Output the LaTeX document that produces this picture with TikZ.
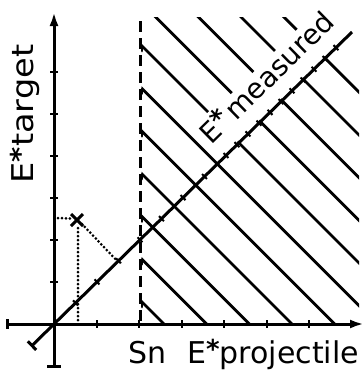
\documentclass[tikz,border=0pt]{standalone}
\usepackage{fontspec}
\setmainfont{DejaVu Sans}
\usetikzlibrary{arrows.meta,calc}
\newcommand{\Estar}{E{\bfseries\fontsize{26}{26}\selectfont\raisebox{5pt}{*}}}
\tikzset{
  axisline/.style={line width=3pt},
  tickmark/.style={line width=2pt},
  hatchline/.style={line width=2.8pt, line cap=round, line join=round},
  dashline/.style={line width=3pt, dash pattern=on 11pt off 6pt},
  dotline/.style={line width=3pt, dash pattern=on 0pt off 4pt, line cap=round},
  lbl/.style={font=\fontsize{30}{30}\selectfont, inner sep=0pt},
  whitelbl/.style={font=\fontsize{28}{28}\selectfont, fill=white, rotate=44.4, inner xsep=1pt, inner ysep=2pt},
  tip/.style={-{Latex[length=14pt,width=9pt]}}
}
\begin{document}
\begin{tikzpicture}[x=1pt,y=-1pt]
\useasboundingbox (0,0) rectangle (364,375);
% key points
\coordinate (O) at (54,324);
\coordinate (ytop) at (54,12);
\coordinate (ybot) at (54,366);
\coordinate (xl) at (7,324);
\coordinate (xr) at (364,324);
\coordinate (Dl) at (32,345.6);
\coordinate (Dt) at (352,32);
\coordinate (Sa) at (140,21);
\coordinate (Sb) at (140,324);
\coordinate (X) at (77,220);
% hatching
\begin{scope}
  \clip (141.5,17) rectangle (359,324);
  \foreach \c in {-160,-117.3,-74.6,-32,10.7,53.4,96,138.7,181.4,224,266.8}
    \draw[hatchline] (\c-50,-50) -- (\c+450,450);
\end{scope}
\foreach \c in {-160,-117.3,-74.6,-32,10.7,53.4,96}
  \draw[hatchline] (142,142-\c+5) -- (142,142-\c);
% label on diagonal with white background
\node[whitelbl, anchor=base west, text depth=13pt] (Em) at (210.6,146.7) {\Estar};
\node[whitelbl, anchor=base west, text depth=13pt, inner xsep=2pt] (meas) at (Em.base east) {measured};
% dashed Sn line
\draw[dashline] (Sa) -- (Sb);
% axes
\draw[axisline, tip] (ybot) -- (ytop);
\draw[axisline, tip] (xl) -- (xr);
\draw[axisline] ($(ybot)+(-7,0)$) -- ($(ybot)+(7,0)$);
\draw[axisline] ($(xl)+(0,-5)$) -- ($(xl)+(0,5)$);
\foreach \x in {96.5,139,181.5,224,266.5,309}
  \draw[tickmark] (\x,320) -- (\x,328);
\foreach \y in {282,240,197.5,155.5,113.5,72}
  \draw[tickmark] (50,\y) -- (58,\y);
% diagonal
\draw[axisline] (Dl) -- (Dt);
\draw[axisline] ($(Dl)!6pt!90:(Dt)$) -- ($(Dl)!6pt!-90:(Dt)$);
\foreach \x in {75.5,97,118.5,140,161.5,183,204.5,226,237,248,259,270,281,292,303,314,325,336}
  \draw[tickmark] ($(O)!{(\x-54)/298}!(Dt)$) coordinate (tk)
     ($(tk)!3.5pt!90:(Dt)$) -- ($(tk)!3.5pt!-90:(Dt)$);
% measured point
\draw[axisline] ($(X)+(-6,-6)$) -- ($(X)+(6,6)$);
\draw[axisline] ($(X)+(-6,6)$) -- ($(X)+(6,-6)$);
\draw[dotline] (58,218) -- ($(X)+(-7,-1.5)$);
\draw[dotline] ($(X)+(1,8)$) -- (78,321);
\draw[dotline] ($(X)+(5,4)$) -- ($(O)!(X)!(Dt)$);
% axis labels
\node[lbl, rotate=90, anchor=base] (yl) at (34,114) {\scalebox{1.12}[1]{\Estar target}};
\node[lbl, anchor=base west] (sn) at (128,363) {Sn};
\node[lbl, anchor=base west] (xlab) at (187,363) {\Estar projectile};
\end{tikzpicture}
\end{document}
